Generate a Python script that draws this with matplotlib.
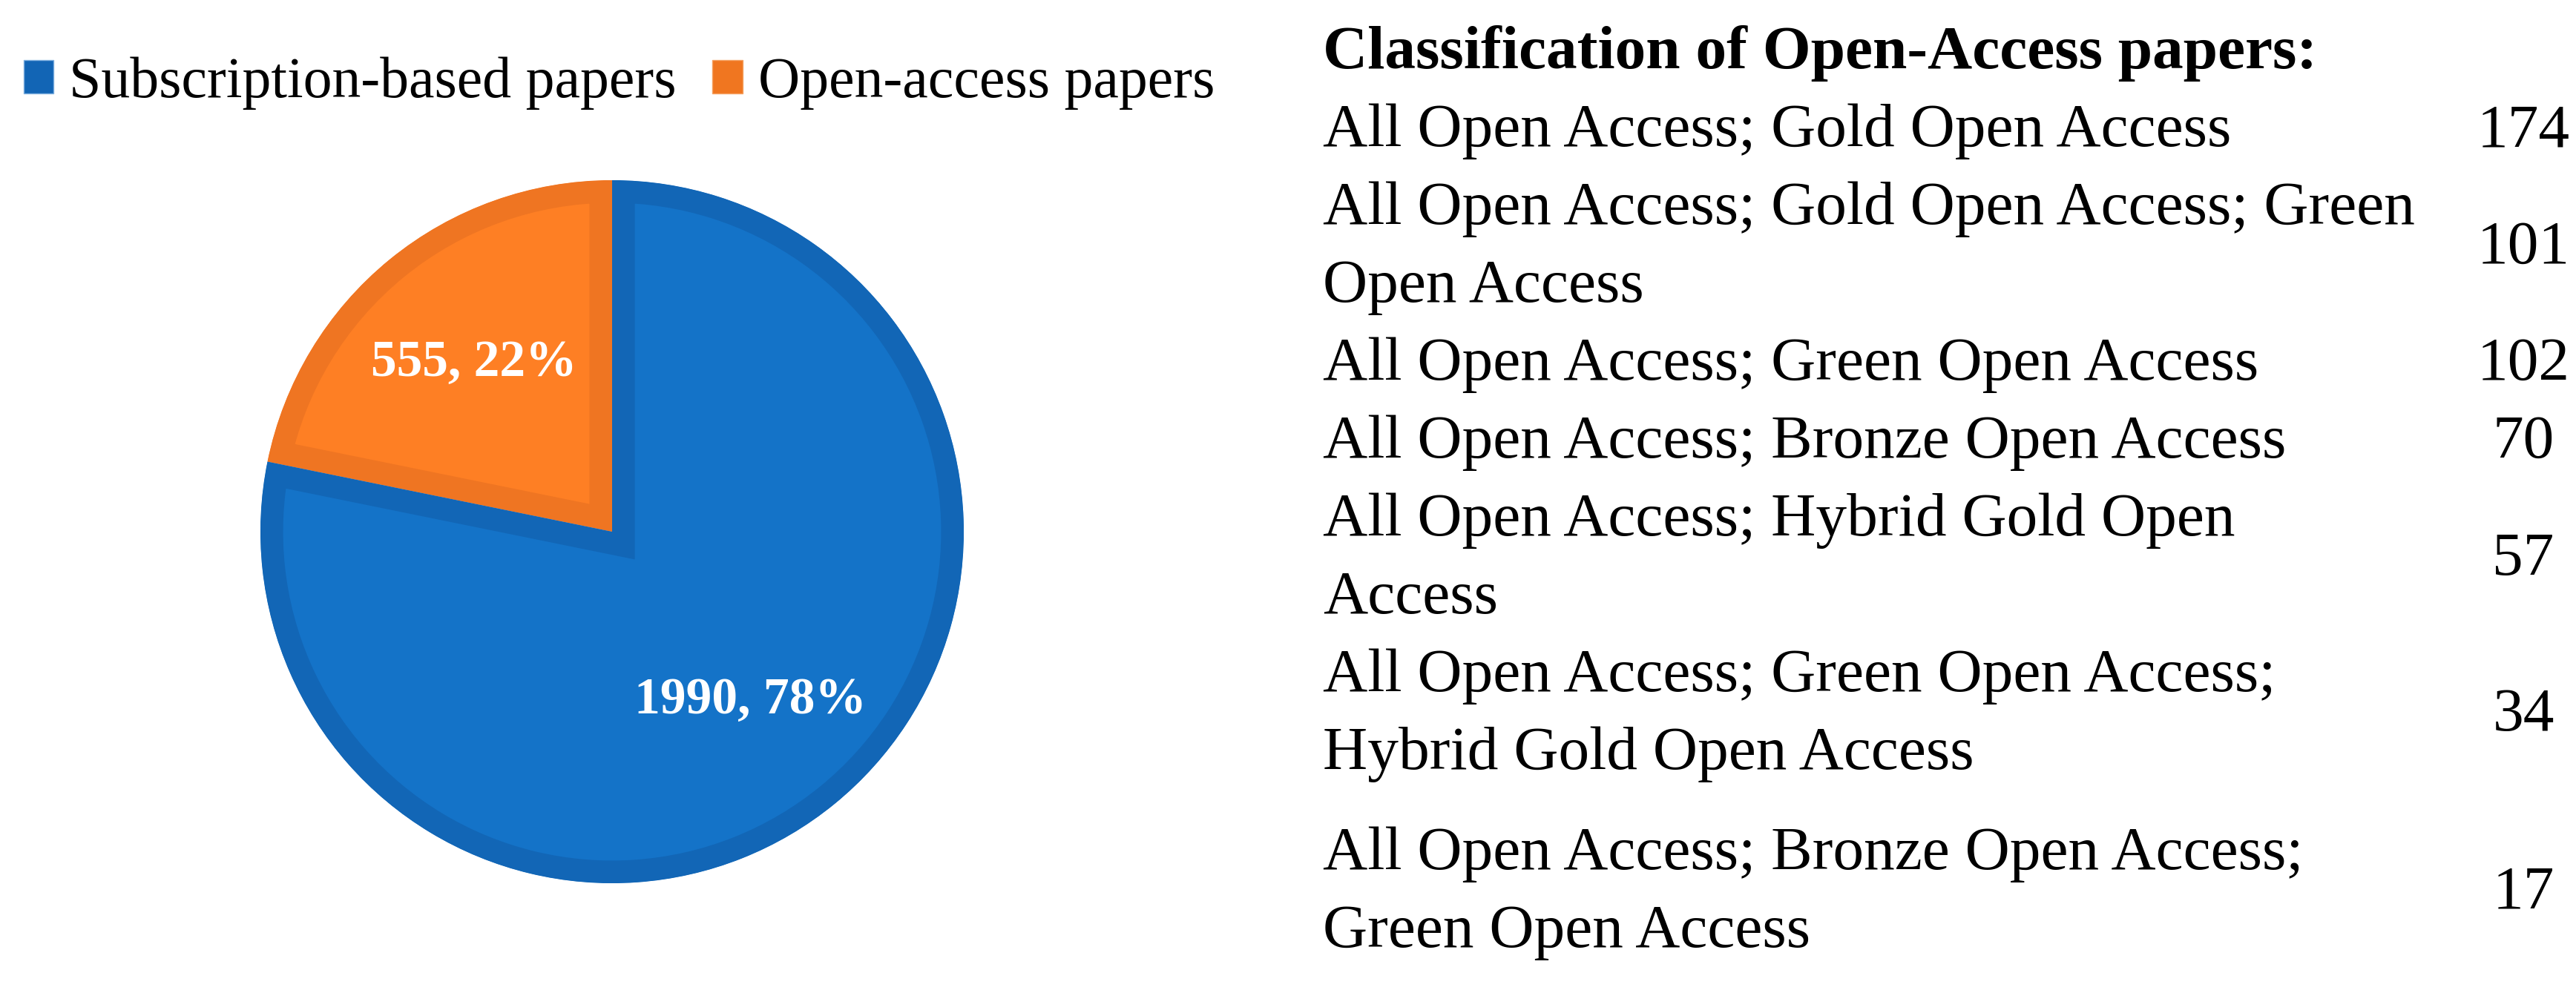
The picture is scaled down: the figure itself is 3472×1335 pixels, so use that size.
import matplotlib
matplotlib.use("Agg")
import matplotlib.pyplot as plt
from matplotlib.patches import Patch

# pie data
categories = ["Subscription-based papers", "Open-access papers"]
counts = [1990, 555]

# open-access classification table
oa_classes = [
    "All Open Access; Gold Open Access",
    "All Open Access; Gold Open Access; Green\nOpen Access",
    "All Open Access; Green Open Access",
    "All Open Access; Bronze Open Access",
    "All Open Access; Hybrid Gold Open\nAccess",
    "All Open Access; Green Open Access;\nHybrid Gold Open Access",
    "All Open Access; Bronze Open Access;\nGreen Open Access",
]
oa_counts = [174, 101, 102, 70, 57, 34, 17]
table_title = "Classification of Open-Access papers:"

W, H = 3473, 1335
fill_colors = ["#1473C8", "#FE7F24"]
edge_colors = ["#1266B6", "#EF7522"]
legend_colors = ["#1265B5", "#F07620"]

plt.rcParams["font.family"] = ["Liberation Serif", "DejaVu Serif"]

fig = plt.figure(figsize=(W / 100, H / 100), dpi=100)

# pie, centre (825, 717) px, radius 474 px
cx, cy, r = 825, 717, 474
ax = fig.add_axes([(cx - r) / W, (H - cy - r) / H, 2 * r / W, 2 * r / H])
total = sum(counts)
wedges, _, autotexts = ax.pie(
    counts[::-1], colors=fill_colors[::-1], startangle=90, radius=1,
    autopct=lambda p: f"{round(p * total / 100)}, {p:.0f}%",
    pctdistance=0.62,
    textprops=dict(color="white", fontsize=50, fontweight="bold"),
    wedgeprops=dict(linewidth=44, joinstyle="miter"),
)
for w, ec in zip(wedges, edge_colors[::-1]):
    w.set_edgecolor(ec)
    w.set_clip_on(True)
    w.set_clip_path(w)  # keep only the inner half of the border
ax.set_xlim(-1, 1)
ax.set_ylim(-1, 1)
ax.set_aspect("equal")

# legend at top left
handles = [Patch(facecolor=c, edgecolor="#7FB0E0" if i == 0 else "#F5A060", linewidth=1)
           for i, c in enumerate(legend_colors)]
fig.legend(handles, categories, loc="center left", bbox_to_anchor=(32 / W, 1 - 112 / H),
           ncol=2, frameon=False, fontsize=56, borderpad=0, borderaxespad=0,
           handlelength=0.52, handleheight=0.52, handletextpad=0.27, columnspacing=0.62)

# text table on the right, in pixel coordinates
tx = fig.add_axes([0, 0, 1, 1])
tx.set_xlim(0, W)
tx.set_ylim(H, 0)
tx.axis("off")

x_text, x_num = 1783, 3401
pitch = 105
tx.text(x_text, 92, table_title, fontsize=60, fontweight="bold", va="baseline", ha="left")
y = 197
for i, (label, n) in enumerate(zip(oa_classes, oa_counts)):
    if i == len(oa_classes) - 1:
        y += 30
    lines = label.split("\n")
    ys = []
    for line in lines:
        tx.text(x_text, y, line, fontsize=60, va="baseline", ha="left")
        ys.append(y)
        y += pitch
    tx.text(x_num, sum(ys) / len(ys), str(n), fontsize=60, va="baseline", ha="center")

fig.savefig("out.png", dpi=100)
